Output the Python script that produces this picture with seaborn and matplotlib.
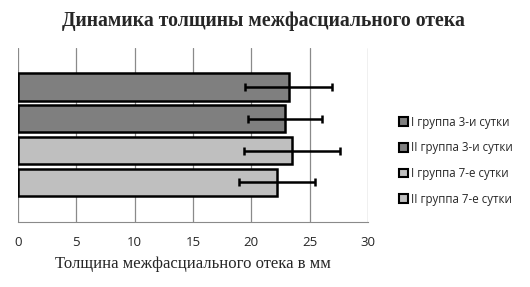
import matplotlib
matplotlib.use("Agg")
import matplotlib.pyplot as plt
import seaborn as sns
import pandas as pd
from matplotlib.patches import Patch

series = ["I группа 3-и сутки", "II группа 3-и сутки", "I группа 7-е сутки", "II группа 7-е сутки"]
values = [23.2, 22.9, 23.5, 22.2]
errors = [3.75, 3.2, 4.1, 3.25]
colors = ["#7f7f7f", "#7f7f7f", "#bfbfbf", "#bfbfbf"]
xticks = [0, 5, 10, 15, 20, 25, 30]

df = pd.DataFrame({"series": series, "value": values})

sns.set_style("white")
fig = plt.figure(figsize=(5.30, 2.87), dpi=100)
ax = fig.add_axes([0.034, 0.227, 0.66, 0.605])

sns.barplot(data=df, y="series", x="value", hue="series", palette=colors,
            order=series, hue_order=series, width=0.86, legend=False,
            edgecolor="black", linewidth=1.8, ax=ax)
ax.errorbar(values, range(len(series)), xerr=errors, fmt="none",
            ecolor="black", elinewidth=1.8, capsize=3, capthick=1.8)

ax.set_xlim(0, 30)
ax.set_ylim(4.24, -1.22)
ax.set_xticks(xticks)
ax.set_yticks([])
ax.set_ylabel("")
ax.grid(axis="x", color="#8a8a8a", linewidth=0.9)
ax.set_axisbelow(True)
for s in ["top", "right", "left"]:
    ax.spines[s].set_visible(False)
ax.spines["bottom"].set_color("#8a8a8a")
ax.tick_params(axis="x", direction="out", length=4, color="#8a8a8a",
               labelsize=9.5, pad=6)
for lab in ax.get_xticklabels():
    lab.set_family("Open Sans")
ax.set_xlabel("Толщина межфасциального отека в мм", family="Liberation Serif",
              fontsize=12, labelpad=5)

fig.text(0.497, 0.927, "Динамика толщины межфасциального отека", family="Liberation Serif",
         fontweight="bold", fontsize=14.2, ha="center", va="center")

handles = [Patch(facecolor=c, edgecolor="black", linewidth=1.5) for c in colors]
fig.legend(handles, series, loc="center left", bbox_to_anchor=(0.733, 0.44),
           frameon=False, prop={"family": "Open Sans", "size": 8.3},
           handlelength=0.75, handleheight=0.75, handletextpad=0.3, labelspacing=1.1)

fig.savefig("out.png", dpi=100, facecolor="white")
